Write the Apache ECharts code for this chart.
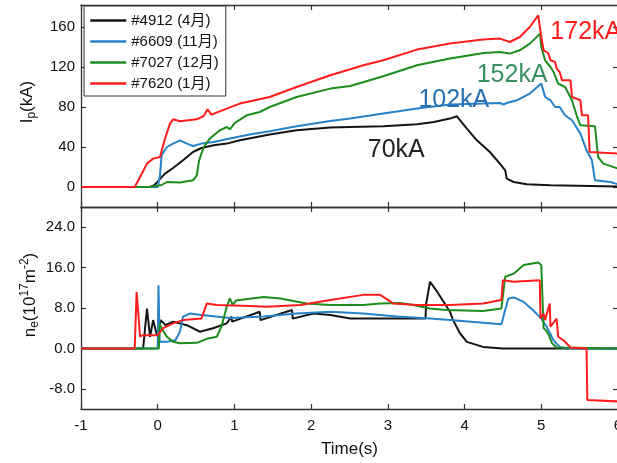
<!DOCTYPE html>
<html><head><meta charset="utf-8">
<script src="https://cdn.jsdelivr.net/npm/echarts@6/dist/echarts.min.js"></script>
<style>html,body{margin:0;padding:0;background:#fff}#c{width:617px;height:463px}</style>
</head><body><div id="c"></div><script>
// ---- data ----
const shotNames = ['#4912 (4月)', '#6609 (11月)', '#7027 (12月)', '#7620 (1月)'];
const shotColors = ['#141414', '#2882c8', '#1e8c1e', '#ff1c1c'];

// Ip (kA) vs time (s)
const ipT_4912 = [-1, -0.1, -0.05, -0.01, 0.04, 0.095, 0.2, 0.33, 0.46, 0.57, 0.73, 0.9, 1.07, 1.29, 1.46, 1.81, 2.25, 2.51, 2.94, 3.38, 3.6, 3.81, 3.9, 4.03, 4.16, 4.33, 4.46, 4.53, 4.55, 4.64, 4.81, 5.12, 6.0];
const ipV_4912 = [0, 0, 1.7, 4.4, 9, 13.4, 19, 26.7, 35, 39, 41.7, 43.4, 46.7, 50, 52.4, 56.7, 59.5, 60, 60.7, 62.7, 65, 68.4, 70.7, 58.4, 46.7, 35, 23.4, 16.7, 8.4, 5, 2.7, 1.7, 0.5];
const ipT_6609 = [-1, 0.0, 0.01, 0.03, 0.05, 0.12, 0.2, 0.29, 0.38, 0.46, 0.57, 0.73, 0.94, 1.2, 1.46, 1.81, 2.25, 2.51, 2.94, 3.38, 3.81, 4.25, 4.46, 4.51, 4.55, 4.68, 4.85, 5.0, 5.05, 5.12, 5.18, 5.24, 5.31, 5.4, 5.51, 5.59, 5.66, 5.7, 5.9, 6.0];
const ipV_6609 = [0, 0, 2, 11.7, 31.7, 40, 43.4, 46.7, 43.4, 41, 43.4, 45, 48.4, 52.4, 55.7, 60.7, 66, 68.4, 73.4, 78.4, 82.4, 83.4, 84, 82.5, 84, 86.7, 93.4, 103.4, 90, 86.7, 80, 80, 71.7, 66.7, 53.4, 36.7, 26.7, 6.7, 5, 2.7];
const ipT_7027 = [-1, -0.1, 0.05, 0.12, 0.29, 0.46, 0.51, 0.54, 0.6, 0.68, 0.81, 0.9, 0.94, 1.01, 1.16, 1.33, 1.46, 1.81, 2.25, 2.51, 2.94, 3.38, 3.81, 4.25, 4.46, 4.59, 4.72, 4.85, 4.985, 5.0, 5.05, 5.12, 5.16, 5.22, 5.31, 5.4, 5.46, 5.51, 5.7, 5.74, 5.81, 6.0];
const ipV_7027 = [0, 0, 2, 5, 4.4, 6.7, 11.7, 26.7, 40, 48.4, 56.7, 60, 57.7, 64.4, 71.7, 75, 80, 90, 98.4, 101, 110.7, 121.7, 128.4, 134, 135, 133.4, 136.7, 143.4, 153.4, 140, 126.7, 120, 115, 103.4, 100, 86.7, 71.7, 61.7, 60.7, 30, 23.4, 18.4];
const ipT_7620 = [-1, -0.3, -0.23, -0.14, -0.06, 0.03, 0.095, 0.16, 0.2, 0.29, 0.51, 0.6, 0.65, 0.7, 0.9, 1.07, 1.46, 1.81, 2.25, 2.51, 2.68, 2.94, 3.38, 3.81, 4.24, 4.46, 4.59, 4.72, 4.85, 4.96, 4.985, 5.0, 5.03, 5.09, 5.12, 5.18, 5.2, 5.24, 5.27, 5.38, 5.4, 5.51, 5.53, 5.61, 5.63, 6.0];
const ipV_7620 = [0, 0, 10, 23.4, 28.4, 30, 48.4, 63.4, 67.7, 65.7, 67.7, 71, 77.7, 72.4, 78.4, 83.4, 90, 100, 111.7, 117.7, 121.7, 126.7, 137.4, 143.4, 147.4, 148.4, 145, 150, 160, 171.7, 173.4, 150, 136.7, 134, 126.7, 125, 118.4, 115, 106.7, 106.7, 90, 86.7, 71.7, 71.7, 35, 33.4];

// ne (1e17 m^-2) vs time (s)
const neT_4912 = [-1, -0.19, -0.14, -0.1, -0.06, -0.01, 0.04, 0.1, 0.2, 0.38, 0.55, 0.72, 0.9, 0.96, 0.97, 1.33, 1.34, 1.75, 1.76, 2.03, 2.25, 2.51, 2.77, 3.12, 3.49, 3.5, 3.55, 3.63, 3.81, 3.85, 3.94, 4.03, 4.24, 4.5, 6.0];
const neV_4912 = [0, 0, 7.9, 2.3, 5.6, 2.6, 5.6, 4.6, 5.3, 4.6, 3.3, 4.0, 4.95, 6.3, 5.3, 7.25, 5.6, 7.6, 5.9, 6.9, 6.6, 5.9, 5.9, 5.9, 5.9, 8.9, 13.2, 11.5, 7.25, 5.6, 3.0, 1.3, 0.3, 0, 0];
const neT_6609 = [-1, 0.0, 0.01, 0.025, 0.12, 0.23, 0.29, 0.33, 0.42, 0.57, 0.94, 1.38, 1.81, 2.25, 2.68, 3.12, 3.55, 3.81, 4.24, 4.48, 4.57, 4.64, 4.77, 4.89, 5.0, 5.07, 5.16, 5.24, 5.33, 6.0];
const neV_6609 = [0, 0, 12.5, 1.3, 1.3, 1.6, 3.3, 6.3, 6.9, 6.6, 6.0, 6.3, 6.9, 7.25, 6.9, 6.3, 5.9, 5.6, 5.1, 4.8, 9.9, 10.1, 9.2, 7.6, 5.9, 4.3, 1.6, 0.3, 0, 0];
const neT_7027 = [-1, 0.015, 0.025, 0.05, 0.12, 0.2, 0.29, 0.51, 0.64, 0.77, 0.83, 0.9, 0.94, 0.98, 1.02, 1.38, 1.6, 1.94, 2.25, 2.68, 2.9, 3.16, 3.33, 3.55, 3.76, 4.24, 4.48, 4.53, 4.64, 4.77, 4.96, 5.0, 5.03, 5.06, 5.1, 5.14, 5.2, 6.0];
const neV_7027 = [0, 0, 4.95, 4.0, 2.3, 1.3, 1.0, 1.1, 1.9, 2.3, 4.3, 8.25, 9.9, 8.6, 9.5, 10.2, 9.9, 8.9, 8.6, 8.6, 8.9, 9.0, 8.6, 7.9, 7.6, 7.4, 7.9, 14.2, 14.8, 16.5, 17.0, 16.5, 4.0, 3.6, 2.6, 1.0, 0.2, 0];
const neT_7620 = [-1, -0.3, -0.275, -0.23, -0.2, 0.0, 0.07, 0.2, 0.33, 0.57, 0.64, 0.77, 1.2, 1.42, 1.86, 2.25, 2.68, 2.9, 3.07, 3.38, 3.81, 4.24, 4.48, 4.5, 4.64, 4.98, 4.99, 5.03, 5.05, 5.11, 5.12, 5.2, 5.22, 5.29, 5.38, 5.59, 5.6, 6.0];
const neV_7620 = [0, 0, 11.2, 2.3, 2.6, 2.6, 4.0, 4.95, 5.6, 5.9, 8.9, 8.6, 8.4, 8.25, 8.6, 9.6, 10.6, 10.6, 8.9, 8.6, 8.6, 8.9, 9.6, 13.5, 13.2, 13.5, 5.9, 6.9, 5.6, 8.9, 4.3, 5.9, 2.3, 1.6, 0.2, 0, -10.2, -10.5];

// axes
const ipTicks = [0, 40, 80, 120, 160];
const neTicks = [-8, 0, 8, 16, 24];

// peak annotations
const annText = ['70kA', '102kA', '152kA', '172kA'];
const annT = [3.11, 3.86, 4.62, 5.58];
const annV = [36.7, 86.7, 111.7, 154.7];
const annColor = ['#222222', '#2670b0', '#3a9060', '#ff1c1c'];

// ---- chart ----
const FONT = '"Liberation Sans", Arial, Helvetica, "Noto Sans CJK SC", sans-serif';
const AX = '#333';
const zip = (t, v) => t.map((x, i) => [x, v[i]]);
const ipData = [zip(ipT_4912, ipV_4912), zip(ipT_6609, ipV_6609), zip(ipT_7027, ipV_7027), zip(ipT_7620, ipV_7620)];
const neData = [zip(neT_4912, neV_4912), zip(neT_6609, neV_6609), zip(neT_7027, neV_7027), zip(neT_7620, neV_7620)];

function xAx(grid, pos, labels) {
  return {
    type: 'value', gridIndex: grid, position: pos, min: -1, max: 6, interval: 1,
    axisLine: { show: true, onZero: false, lineStyle: { color: AX, width: 1.3 } },
    axisTick: { show: true, inside: true, length: 5, lineStyle: { color: AX, width: 1.2 } },
    axisLabel: { show: labels, margin: 9, fontSize: 15, color: '#111', fontFamily: FONT },
    splitLine: { show: false },
    name: labels ? 'Time(s)' : '', nameLocation: 'middle', nameGap: 32,
    nameTextStyle: { fontSize: 17, color: '#111', fontFamily: FONT }
  };
}
function yAx(grid, pos, min, max, ticks, labels, fmt) {
  return {
    type: 'value', gridIndex: grid, position: pos, min: min, max: max,
    axisLine: { show: true, onZero: false, lineStyle: { color: AX, width: 1.3 } },
    axisTick: { show: true, inside: true, length: 5, customValues: ticks, lineStyle: { color: AX, width: 1.2 } },
    axisLabel: { show: labels, customValues: ticks, margin: 6, fontSize: 15, color: '#111', fontFamily: FONT, formatter: fmt },
    splitLine: { show: false }
  };
}

const series = [];
shotNames.forEach((n, i) => {
  series.push({ name: n, type: 'line', xAxisIndex: 0, yAxisIndex: 0, data: ipData[i], symbol: 'none', showSymbol: false,
    lineStyle: { color: shotColors[i], width: 2 }, itemStyle: { color: shotColors[i] }, z: 2 + i });
});
shotNames.forEach((n, i) => {
  series.push({ name: n, type: 'line', xAxisIndex: 2, yAxisIndex: 2, data: neData[i], symbol: 'none', showSymbol: false,
    lineStyle: { color: shotColors[i], width: 2 }, itemStyle: { color: shotColors[i] }, z: 2 + i });
});

const chart = echarts.init(document.getElementById('c'), null, { renderer: 'canvas' });
const option = {
  animation: false,
  backgroundColor: '#fff',
  grid: [
    { left: 81, top: 5, width: 537, height: 202, containLabel: false, outerBoundsMode: 'none' },
    { left: 81, top: 207, width: 537, height: 202, containLabel: false, outerBoundsMode: 'none' }
  ],
  xAxis: [xAx(0, 'bottom', false), xAx(0, 'top', false), xAx(1, 'bottom', true), xAx(1, 'top', false)],
  yAxis: [
    yAx(0, 'left', -20, 182, ipTicks, true, v => String(v)),
    yAx(0, 'right', -20, 182, ipTicks, false, v => String(v)),
    yAx(1, 'left', -12, 28, neTicks, true, v => Number(v).toFixed(1)),
    yAx(1, 'right', -12, 28, neTicks, false, v => Number(v).toFixed(1))
  ],
  legend: {
    orient: 'vertical', left: 84, top: 6, padding: [7, 7, 5, 5],
    itemWidth: 36, itemHeight: 14, itemGap: 6,
    itemStyle: { opacity: 0 },
    lineStyle: { width: 2.5 },
    borderColor: '#333', borderWidth: 1, backgroundColor: '#fff',
    textStyle: { fontSize: 15, color: '#111', fontFamily: FONT },
    data: shotNames
  },
  series: series
};
chart.setOption(option);

const graphics = annText.map((txt, i) => {
  const p = chart.convertToPixel({ gridIndex: 0 }, [annT[i], annV[i]]);
  return { type: 'text', x: p[0], y: p[1], z: 50,
    style: { text: txt, fill: annColor[i], fontSize: 25, fontFamily: FONT, align: 'center', verticalAlign: 'middle' } };
});
graphics.push({
  type: 'text', x: 27, y: 102, rotation: Math.PI / 2, z: 50,
  style: { text: '{m|I}{s|p}{m|(kA)}', align: 'center', verticalAlign: 'middle',
    rich: { m: { fontSize: 17, fontFamily: FONT, fill: '#111' }, s: { fontSize: 12, fontFamily: FONT, fill: '#111', padding: [10, 0, 0, 0] } } }
});
graphics.push({
  type: 'text', x: 30, y: 295, rotation: Math.PI / 2, z: 50,
  style: { text: '{m|n}{s|e}{m|(10}{p|17}{m|m}{p|-2}{m|)}', align: 'center', verticalAlign: 'middle',
    rich: { m: { fontSize: 17, fontFamily: FONT, fill: '#111' },
      s: { fontSize: 12, fontFamily: FONT, fill: '#111', padding: [10, 0, 0, 0] },
      p: { fontSize: 12, fontFamily: FONT, fill: '#111', padding: [0, 0, 10, 0] } } }
});
chart.setOption({ graphic: graphics });
</script></body></html>
